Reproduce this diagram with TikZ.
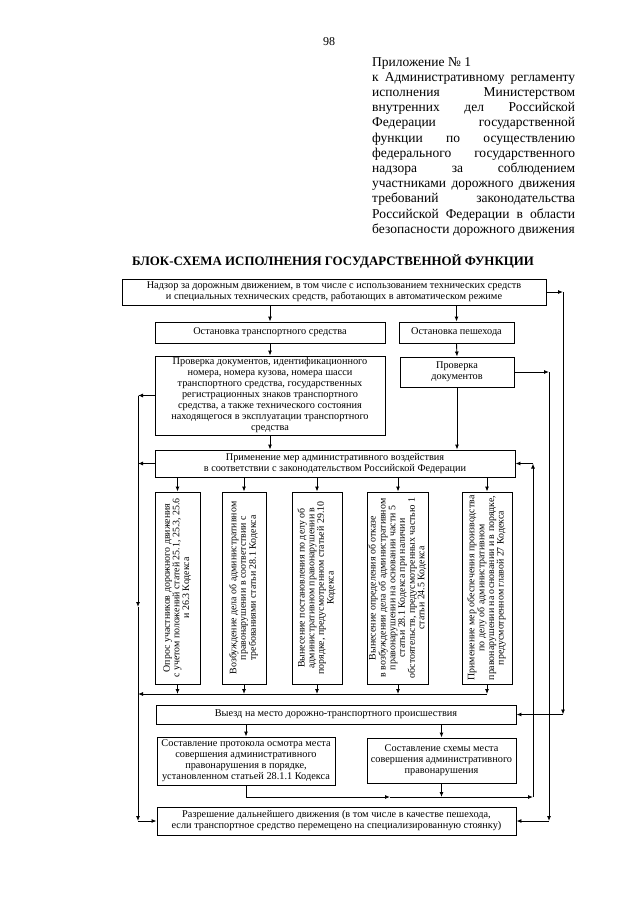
\documentclass[tikz,border=0pt]{standalone}
\usepackage{fontspec}
\setmainfont{Liberation Serif}
\usetikzlibrary{arrows.meta}
\newcommand\fsbox{\fontsize{10.3}{11}\selectfont}
\newcommand\fsv{\fontsize{9.9}{9.6}\selectfont}
\newcommand\vt[1]{\rotatebox{90}{\begin{tabular}{@{}c@{}}#1\end{tabular}}}
\newcommand\jl[1]{\makebox[203pt][s]{#1}}
\tikzset{
  box/.style={draw, line width=0.9pt, inner sep=1pt, align=center, font=\fsbox},
  vbox/.style={draw, line width=0.9pt, inner sep=1pt, font=\fsv, minimum height=192},
  arr/.style={-{Latex[length=5pt,width=4pt]}, line width=0.9pt},
  ln/.style={line width=0.9pt},
}
\begin{document}
\begin{tikzpicture}[x=1pt,y=-1pt]
\useasboundingbox (0,0) rectangle (640,905);
\fill[white] (0,0) rectangle (640,905);
% header
\node[font=\fontsize{12}{14}\selectfont] (pg) at (329,42) {98};
\node[anchor=north west, inner sep=0pt, align=left, font=\fontsize{13.5}{15.2}\selectfont] (hdr) at (372,57)
{Приложение № 1\\
\jl{к Административному регламенту}\\
\jl{исполнения Министерством}\\
\jl{внутренних дел Российской}\\
\jl{Федерации государственной}\\
\jl{функции по осуществлению}\\
\jl{федерального государственного}\\
\jl{надзора за соблюдением}\\
\jl{участниками дорожного движения}\\
\jl{требований законодательства}\\
\jl{Российской Федерации в области}\\
безопасности дорожного движения};
\node[font=\fontsize{12.9}{15}\selectfont\bfseries] (title) at (333,261) {БЛОК-СХЕМА ИСПОЛНЕНИЯ ГОСУДАРСТВЕННОЙ ФУНКЦИИ};
% boxes
\node[box, minimum width=424, minimum height=26] (top) at (334,292)
{Надзор за дорожным движением, в том числе с использованием технических средств\\
и специальных технических средств, работающих в автоматическом режиме};
\node[box, minimum width=230, minimum height=21] (ostT) at (270,332.5) {Остановка транспортного средства};
\node[box, minimum width=115, minimum height=21] (ostP) at (456.5,332.5) {Остановка пешехода};
\node[box, minimum width=230, minimum height=79] (prov) at (270,395.5)
{Проверка документов, идентификационного\\
номера, номера кузова, номера шасси\\
транспортного средства, государственных\\
регистрационных знаков транспортного\\
средства, а также технического состояния\\
находящегося в эксплуатации транспортного\\
средства};
\node[box, minimum width=114, minimum height=30] (provD) at (457,372) {Проверка\\документов};
\node[box, minimum width=360, minimum height=27] (prim) at (335,463.5)
{Применение мер административного воздействия\\
в соответствии с законодательством Российской Федерации};
\node[vbox, minimum width=45] (v1) at (177.5,588)
{\vt{Опрос участников дорожного движения\\с учетом положений статей 25.1, 25.3, 25.6\\и 26.3 Кодекса}};
\node[vbox, minimum width=44] (v2) at (244,588)
{\vt{Возбуждение дела об административном\\правонарушении в соответствии с\\требованиями статьи 28.1 Кодекса}};
\node[vbox, minimum width=50] (v3) at (317,588)
{\vt{Вынесение постановления по делу об\\административном правонарушении в\\порядке, предусмотренном статьей 29.10\\Кодекса}};
\node[vbox, minimum width=60] (v4) at (398,588)
{\vt{Вынесение определения об отказе\\в возбуждении дела об административном\\правонарушении на основании части 5\\статьи 28.1 Кодекса при наличии\\обстоятельств, предусмотренных частью 1\\статьи 24.5 Кодекса}};
\node[vbox, minimum width=50] (v5) at (487,588)
{\vt{Применение мер обеспечения производства\\по делу об административном\\правонарушении на основании и в порядке,\\предусмотренном главой 27 Кодекса}};
\node[box, minimum width=360, minimum height=19] (vyezd) at (336,714.5) {Выезд на место дорожно-транспортного происшествия};
\node[box, minimum width=178, minimum height=48] (prot) at (246,761)
{Составление протокола осмотра места\\
совершения административного\\
правонарушения в порядке,\\
установленном статьей 28.1.1 Кодекса};
\node[box, minimum width=149, minimum height=45] (schem) at (441.5,760.5)
{Составление схемы места\\
совершения административного\\
правонарушения};
\node[box, minimum width=359, minimum height=28] (razr) at (336.5,821)
{Разрешение дальнейшего движения (в том числе в качестве пешехода,\\
если транспортное средство перемещено на специализированную стоянку)};
% helper coordinates
\coordinate (cl) at (138,694);
\coordinate (L1) at (prov.west -| cl);
\coordinate (Lm) at (138,607);
\coordinate (L2) at (razr.west -| cl);
\coordinate (C1) at (563,292);
\coordinate (C2) at (vyezd.east -| C1);
\coordinate (B1) at (provD.east -| 549,0);
\coordinate (B2) at (razr.east -| B1);
\coordinate (P1) at (prot.south |- 0,797);
\coordinate (M) at (390,797);
\coordinate (A1) at (533,797);
\coordinate (A2) at (prim.east -| A1);
% connectors
\draw[arr] (ostT.north |- top.south) -- (ostT.north);
\draw[arr] (ostP.north |- top.south) -- (ostP.north);
\draw[arr] (ostT.south) -- (prov.north);
\draw[arr] (ostP.south) -- (provD.north);
\draw[arr] (prov.south) -- (prov.south |- prim.north);
\draw[arr] (provD.south) -- (provD.south |- prim.north);
\foreach \v in {v1,v2,v3,v4,v5}{
  \draw[arr] (\v.north |- prim.south) -- (\v.north);
  \draw[arr] (\v.south) -- (\v.south |- cl);
}
\draw[arr] (v5.south |- cl) -- (cl);
\draw[arr] (prov.west) -- (L1);
\draw[arr] (prim.west) -- (prim.west -| cl);
\draw[arr] (L1) -- (Lm);
\draw[arr] (Lm) -- (L2);
\draw[arr] (L2) -- (razr.west);
\draw[arr] (top.east) -- (C1);
\draw[arr] (C1) -- (C2);
\draw[arr] (C2) -- (vyezd.east);
\draw[arr] (provD.east) -- (B1);
\draw[arr] (B1) -- (B2);
\draw[arr] (B2) -- (razr.east);
\draw[arr] (prot.north |- vyezd.south) -- (prot.north);
\draw[arr] (schem.north |- vyezd.south) -- (schem.north);
\draw[ln] (prot.south) -- (P1);
\draw[arr] (P1) -- (M);
\draw[arr] (M) -- (A1);
\draw[arr] (schem.south) -- (schem.south |- P1);
\draw[arr] (A1) -- (A2);
\draw[arr] (A2) -- (prim.east);
\end{tikzpicture}
\end{document}
